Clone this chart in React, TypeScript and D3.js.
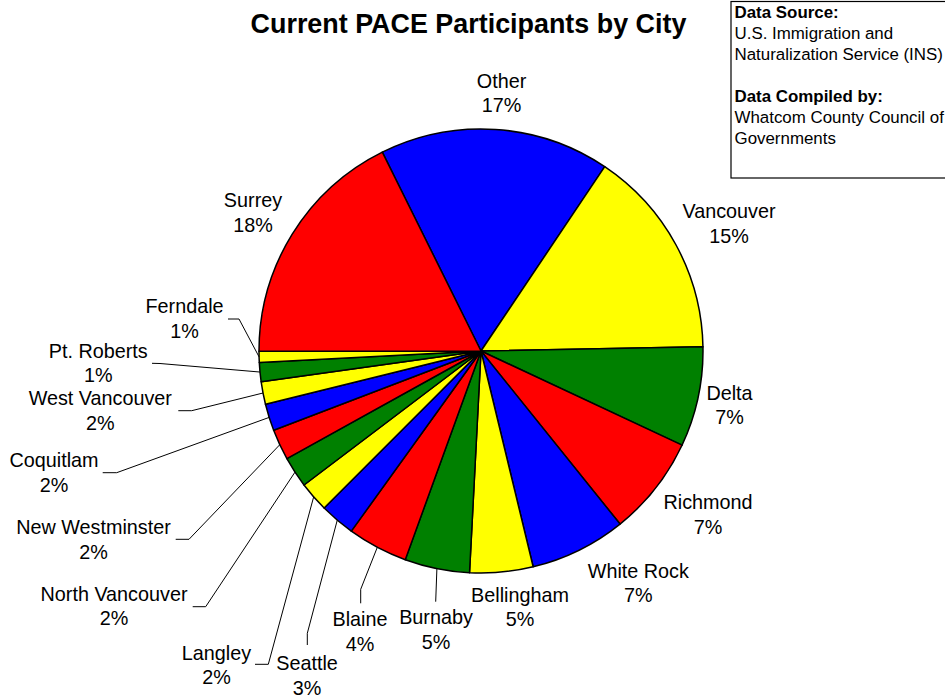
import React from "react";
import * as d3 from "d3";

const cities = ["Other","Vancouver","Delta","Richmond","White Rock","Bellingham","Burnaby","Blaine","Seattle","Langley","North Vancouver","New Westminster","Coquitlam","West Vancouver","Pt. Roberts","Ferndale","Surrey"];
const shares = [16.75,15.3,7.27,7.26,7.0,4.6,4.72,4.39,2.56,2.2,2.25,2.25,1.96,1.65,1.39,0.79,17.7];
const sliceColors = ["#0000FF","#FFFF00","#008000","#FF0000","#0000FF","#FFFF00","#008000","#FF0000","#0000FF","#FFFF00","#008000","#FF0000","#0000FF","#FFFF00","#008000","#FFFF00","#FF0000"];
const titleText = "Current PACE Participants by City";
const sourceLines = [
  { t: "Data Source:", b: true },
  { t: "U.S. Immigration and", b: false },
  { t: "Naturalization Service (INS)", b: false },
  { t: "", b: false },
  { t: "Data Compiled by:", b: true },
  { t: "Whatcom County Council of", b: false },
  { t: "Governments", b: false },
];

// manual label placement (as in the original chart)
const labelLayout: Record<string, { x: number; y: number }> = {
  "Other": { x: 501.5, y: 87.5 },
  "Vancouver": { x: 729, y: 218 },
  "Delta": { x: 729.5, y: 399.5 },
  "Richmond": { x: 708, y: 509 },
  "White Rock": { x: 638.3, y: 577.5 },
  "Bellingham": { x: 520, y: 601.5 },
  "Burnaby": { x: 436, y: 624 },
  "Blaine": { x: 360, y: 626 },
  "Seattle": { x: 307, y: 670 },
  "Langley": { x: 216.5, y: 659.5 },
  "North Vancouver": { x: 114, y: 600.7 },
  "New Westminster": { x: 93.5, y: 534 },
  "Coquitlam": { x: 54, y: 467.3 },
  "West Vancouver": { x: 100.3, y: 405 },
  "Pt. Roberts": { x: 98.3, y: 357.7 },
  "Ferndale": { x: 184.5, y: 313.3 },
  "Surrey": { x: 253, y: 207 },
};
const leaders: Record<string, [number, number][]> = {
  "Ferndale": [[228, 319], [239, 319]],
  "Pt. Roberts": [[152, 363.3], [160, 363.5]],
  "West Vancouver": [[178.3, 410.7], [191.7, 410.7]],
  "Coquitlam": [[102.7, 472.7], [116.7, 472.7]],
  "New Westminster": [[175.7, 539.3], [189, 539.3]],
  "North Vancouver": [[192.7, 606.7], [205.7, 606.7]],
  "Langley": [[255, 664.3], [268.3, 664.3]],
  "Seattle": [[307.3, 645], [307.3, 633.3]],
  "Blaine": [[360.7, 603.3], [360.7, 589.3]],
  "Burnaby": [[435.7, 601.7], [435.7, 601.7]],
};

const W = 945, H = 698;
const cx = 481, cy = 351, R = 222;
const FONT = "'Liberation Sans', Arial, Helvetica, sans-serif";

export default function App() {
  const data = cities.map((c, i) => ({ city: c, value: shares[i], color: sliceColors[i] }));
  const total = d3.sum(shares);
  const start = (-26.4 * Math.PI) / 180;
  const pie = d3.pie<any>().value((d) => d.value).sort(null).startAngle(start).endAngle(start + 2 * Math.PI);
  const arcs = pie(data);
  const arc = d3.arc<any>().innerRadius(0).outerRadius(R);
  const fmt = (v: number) => `${Math.round((v / total) * 100)}%`;

  return (
    <svg width={W} height={H} style={{ position: "absolute", left: 0, top: 0, background: "#fff" }} fontFamily={FONT}>
      <rect x={0} y={0} width={W} height={H} fill="#fff" />
      <text x={468.5} y={33} textAnchor="middle" fontWeight="bold" fontSize={26.9} fill="#000">{titleText}</text>
      <g transform={`translate(${cx},${cy})`}>
        {arcs.map((a, i) => (
          <path key={i} d={arc(a) || ""} fill={a.data.color} stroke="#000" strokeWidth={1.5} strokeLinejoin="round" />
        ))}
      </g>
      {arcs.map((a, i) => {
        const name = a.data.city;
        const pts = leaders[name];
        if (!pts) return null;
        const mid = (a.startAngle + a.endAngle) / 2;
        const px = cx + R * Math.sin(mid);
        const py = cy - R * Math.cos(mid);
        const all = [...pts, [px, py]] as [number, number][];
        return <path key={"l" + i} d={d3.line()(all) || ""} fill="none" stroke="#000" strokeWidth={1} />;
      })}
      {arcs.map((a, i) => {
        const L = labelLayout[a.data.city];
        return (
          <text key={"t" + i} x={L.x} y={L.y} textAnchor="middle" fontSize={19.8} fill="#000">
            <tspan x={L.x}>{a.data.city}</tspan>
            <tspan x={L.x} dy={24.5}>{fmt(a.data.value)}</tspan>
          </text>
        );
      })}
      <rect x={731} y={1.5} width={230} height={176.5} fill="#fff" stroke="#000" strokeWidth={1.2} />
      {sourceLines.map((l, i) => (
        <text key={"s" + i} x={734.5} y={18.3 + i * 20.95} fontSize={16.9} fontWeight={l.b ? "bold" : "normal"} fill="#000">{l.t}</text>
      ))}
    </svg>
  );
}
